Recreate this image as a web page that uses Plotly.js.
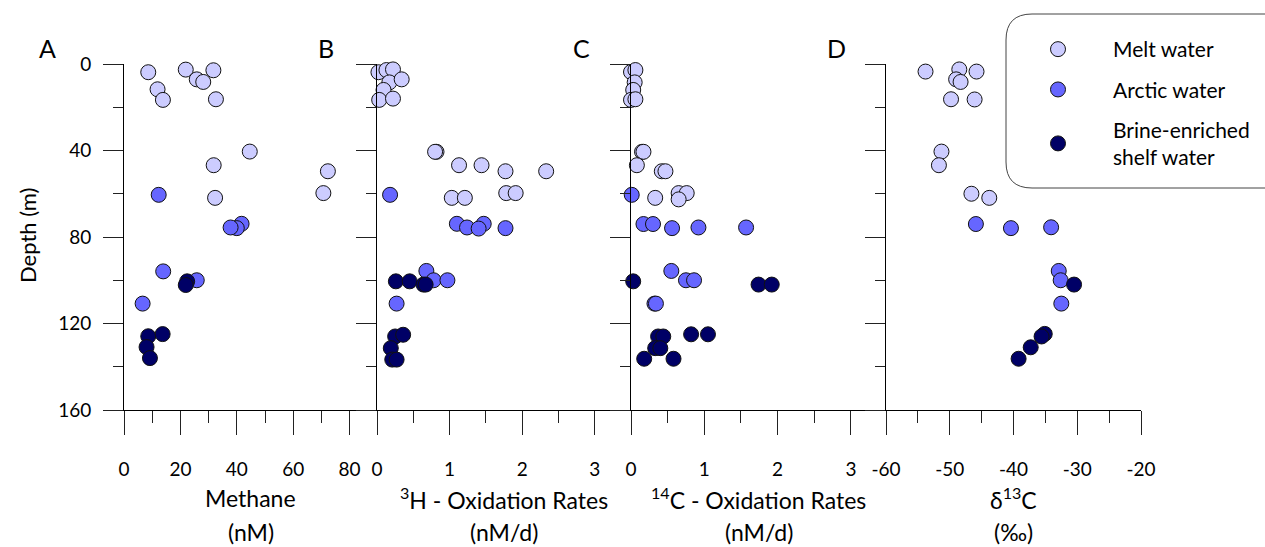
<!DOCTYPE html>
<html>
<head>
<meta charset="utf-8">
<script src="https://cdn.plot.ly/plotly-3.0.1.min.js"></script>
<style>html,body{margin:0;padding:0;background:#fff;}#chart{width:1265px;height:547px;}</style>
</head>
<body>
<div id="chart"></div>
<script>
// ---------- DATA ----------
const seriesNames = ["Melt water", "Arctic water", "Brine-enriched<br>shelf water"];

// Panel A: Methane (nM)
const methaneMeltDepth   = [3.8, 11.7, 16.6, 2.6, 7.1, 8.3, 2.9, 16.3, 40.5, 46.8, 49.6, 59.7, 61.9];
const methaneMelt        = [8.6, 11.9, 13.8, 21.9, 25.8, 28.1, 31.7, 32.6, 44.6, 31.8, 72.3, 70.7, 32.3];
const methaneArcticDepth = [60.5, 73.9, 75.9, 75.6, 95.9, 100, 110.8];
const methaneArctic      = [12.3, 41.7, 40.0, 37.8, 13.9, 25.8, 6.6];
const methaneBrineDepth  = [100.5, 102.2, 125.9, 124.9, 130.9, 136];
const methaneBrine       = [22.4, 21.9, 8.6, 13.7, 8.0, 9.2];

// Panel B: 3H oxidation rates (nM/d)
const h3MeltDepth   = [3.8, 2.8, 2.5, 8.5, 7.1, 12, 16.6, 16, 40.6, 40.6, 46.8, 46.8, 49.6, 49.6, 59.7, 59.7, 61.9, 61.9];
const h3Melt        = [0.02, 0.13, 0.22, 0.17, 0.34, 0.09, 0.03, 0.22, 0.82, 0.80, 1.13, 1.44, 1.77, 2.33, 1.78, 1.91, 1.03, 1.21];
const h3ArcticDepth = [60.5, 73.9, 75.6, 73.9, 76.1, 75.9, 95.7, 100, 100, 110.8];
const h3Arctic      = [0.18, 1.10, 1.24, 1.47, 1.40, 1.77, 0.68, 0.78, 0.97, 0.27];
const h3BrineDepth  = [100.5, 100.5, 102, 102, 126, 125.2, 131.4, 136.7, 136.7];
const h3Brine       = [0.26, 0.45, 0.64, 0.67, 0.25, 0.36, 0.19, 0.21, 0.27];

// Panel C: 14C oxidation rates (nM/d)
const c14MeltDepth   = [3.7, 2.8, 8.5, 12, 16.6, 16.3, 40.6, 40.6, 46.8, 49.6, 49.6, 59.7, 59.7, 62.6, 61.9];
const c14Melt        = [0.0, 0.06, 0.05, 0.03, 0.0, 0.06, 0.15, 0.17, 0.08, 0.42, 0.47, 0.65, 0.76, 0.65, 0.33];
const c14ArcticDepth = [60.5, 74, 74, 75.9, 75.6, 75.6, 95.7, 100, 100, 110.8, 110.8];
const c14Arctic      = [0.01, 0.17, 0.30, 0.56, 0.92, 1.57, 0.55, 0.75, 0.86, 0.32, 0.34];
const c14BrineDepth  = [100.5, 102, 102, 126, 126, 125, 125, 131.4, 131.4, 136.3, 136.3];
const c14Brine       = [0.03, 1.74, 1.92, 0.37, 0.44, 0.82, 1.05, 0.33, 0.40, 0.18, 0.58];

// Panel D: delta 13C (permil)
const d13MeltDepth   = [3.5, 2.5, 3.5, 7.1, 8.3, 16.3, 16.4, 40.5, 46.8, 60, 61.9];
const d13Melt        = [-53.8, -48.5, -45.8, -49.0, -48.3, -49.8, -46.1, -51.3, -51.7, -46.6, -43.8];
const d13ArcticDepth = [74, 75.9, 75.5, 95.7, 100, 110.8];
const d13Arctic      = [-45.9, -40.4, -34.1, -32.9, -32.6, -32.5];
const d13BrineDepth  = [102, 124.8, 126, 131, 136.3];
const d13Brine       = [-30.5, -35.1, -35.6, -37.3, -39.2];

// tick values
const depthTicks      = [0, 40, 80, 120, 160];
const depthMinorTicks = [20, 60, 100, 140];
const methaneTicks = [0, 20, 40, 60, 80];
const methaneMinor = [10, 30, 50, 70];
const rateTicks = [0, 1, 2, 3];
const rateMinor = [0.5, 1.5, 2.5];
const d13Ticks = [-60, -50, -40, -30, -20];
const d13Minor = [-55, -45, -35, -25];

// ---------- STYLE ----------
const FONT = "Lato, 'Open Sans', 'DejaVu Sans', sans-serif";
const colors = ["#CCCCFF", "#6666FF", "#000066"];
const W = 1265, H = 547;
const L = 124, R = 124, T = 64, B = 137;
const plotW = W - L - R, plotH = H - T - B;
const px2x = p => (p - L) / plotW;
const px2y = p => (H - B - p) / plotH;

const panels = [
  {x: [methaneMelt, methaneArctic, methaneBrine], y: [methaneMeltDepth, methaneArcticDepth, methaneBrineDepth]},
  {x: [h3Melt, h3Arctic, h3Brine], y: [h3MeltDepth, h3ArcticDepth, h3BrineDepth]},
  {x: [c14Melt, c14Arctic, c14Brine], y: [c14MeltDepth, c14ArcticDepth, c14BrineDepth]},
  {x: [d13Melt, d13Arctic, d13Brine], y: [d13MeltDepth, d13ArcticDepth, d13BrineDepth]}
];

const traces = [];
panels.forEach((p, i) => {
  const sfx = i === 0 ? "" : String(i + 1);
  for (let s = 0; s < 3; s++) {
    traces.push({
      type: "scatter", mode: "markers",
      x: p.x[s], y: p.y[s],
      xaxis: "x" + sfx, yaxis: "y" + sfx,
      name: seriesNames[s], legendgroup: "g" + s,
      showlegend: i === 0,
      cliponaxis: false,
      marker: {size: 15, color: colors[s], line: {color: "#111111", width: 1}}
    });
  }
});

const bounds = [124, 377, 631, 886, 1141];
const xRanges = [[0, 253 / 2.82], [0, 254 / 72.6], [0, 255 / 73.3], [-60, -20]];
const xTicks = [methaneTicks, rateTicks, rateTicks, d13Ticks];
const xMinor = [methaneMinor, rateMinor, rateMinor, d13Minor];

const layout = {
  width: W, height: H,
  margin: {l: L, r: R, t: T, b: B, pad: 0, autoexpand: false},
  paper_bgcolor: "#ffffff", plot_bgcolor: "rgba(0,0,0,0)",
  font: {family: FONT, size: 19, color: "#000"},
  showlegend: true,
  legend: {
    xref: "container", yref: "container",
    x: 1003 / W, y: 1 - 29 / H, xanchor: "left", yanchor: "top",
    bgcolor: "rgba(0,0,0,0)", borderwidth: 0,
    itemwidth: 100, tracegroupgap: 10,
    font: {family: FONT, size: 21, color: "#000"}
  },
  shapes: [], annotations: []
};

for (let i = 0; i < 4; i++) {
  const sfx = i === 0 ? "" : String(i + 1);
  layout["xaxis" + sfx] = {
    domain: [px2x(bounds[i]), px2x(bounds[i + 1])],
    range: xRanges[i], anchor: "y" + sfx,
    showline: true, linecolor: "#000", linewidth: 1,
    showgrid: false, zeroline: false,
    ticks: "outside", ticklen: 24, tickwidth: 1, tickcolor: "#222",
    tickvals: xTicks[i], ticktext: xTicks[i].map(v => String(v)),
    ticklabelstandoff: 18,
    tickfont: {family: FONT, size: 19, color: "#000"},
    minor: {tickvals: xMinor[i], ticks: "outside", ticklen: 12, tickwidth: 1, tickcolor: "#222"},
    fixedrange: true
  };
  layout["yaxis" + sfx] = {
    domain: [0, 1], range: [160, 0], anchor: "x" + sfx,
    showline: true, linecolor: "#000", linewidth: 1,
    showgrid: false, zeroline: false,
    ticks: "outside", ticklen: 20, tickwidth: 1, tickcolor: "#222",
    tickvals: depthTicks, ticktext: depthTicks.map(v => String(v)),
    showticklabels: i === 0,
    ticklabelstandoff: 8,
    tickfont: {family: FONT, size: 19, color: "#000"},
    minor: {tickvals: depthMinorTicks, ticks: "outside", ticklen: 10, tickwidth: 1, tickcolor: "#222"},
    fixedrange: true
  };
}

// axis titles (two lines each)
const titles = [
  ["Methane", "(nM)"],
  ["<sup>3</sup>H - Oxidation Rates", "(nM/d)"],
  ["<sup>14</sup>C - Oxidation Rates", "(nM/d)"],
  ["δ<sup>13</sup>C", "(‰)"]
];
titles.forEach((t, i) => {
  const cx = (bounds[i] + bounds[i + 1]) / 2;
  layout.annotations.push({xref: "paper", yref: "paper", x: px2x(cx), y: px2y(498), text: t[0],
    showarrow: false, xanchor: "center", yanchor: "middle", font: {family: FONT, size: 23, color: "#000"}});
  layout.annotations.push({xref: "paper", yref: "paper", x: px2x(cx), y: px2y(532), text: t[1],
    showarrow: false, xanchor: "center", yanchor: "middle", font: {family: FONT, size: 23, color: "#000"}});
});

// panel letters
[["A", 47], ["B", 326], ["C", 581], ["D", 836]].forEach(([t, x]) => {
  layout.annotations.push({xref: "paper", yref: "paper", x: px2x(x), y: px2y(48), text: t,
    showarrow: false, xanchor: "center", yanchor: "middle", font: {family: FONT, size: 25, color: "#000"}});
});

// y title
layout.annotations.push({xref: "paper", yref: "paper", x: px2x(27), y: px2y(236), text: "Depth (m)",
  textangle: -90, showarrow: false, xanchor: "center", yanchor: "middle", font: {family: FONT, size: 22, color: "#000"}});

// rounded legend box
(function () {
  const x0 = 1006, x1 = 1290, y0 = 14, y1 = 188, r = 26;
  const X = v => px2x(v), Y = v => px2y(v);
  const path = "M " + X(x0 + r) + "," + Y(y0) +
    " L " + X(x1) + "," + Y(y0) +
    " L " + X(x1) + "," + Y(y1) +
    " L " + X(x0 + r) + "," + Y(y1) +
    " Q " + X(x0) + "," + Y(y1) + " " + X(x0) + "," + Y(y1 - r) +
    " L " + X(x0) + "," + Y(y0 + r) +
    " Q " + X(x0) + "," + Y(y0) + " " + X(x0 + r) + "," + Y(y0) + " Z";
  layout.shapes.push({type: "path", xref: "paper", yref: "paper", path: path,
    line: {color: "#444", width: 1}, fillcolor: "rgba(0,0,0,0)", layer: "below"});
})();

Plotly.newPlot("chart", traces, layout, {staticPlot: true, displayModeBar: false});
</script>
</body>
</html>
